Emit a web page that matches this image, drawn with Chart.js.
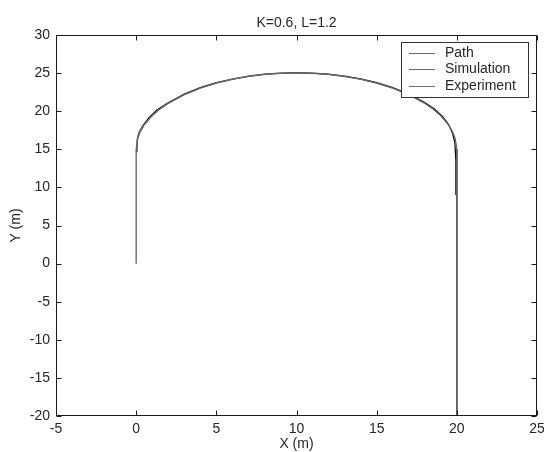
<!DOCTYPE html>
<html>
<head>
<meta charset="utf-8">
<script src="https://cdn.jsdelivr.net/npm/chart.js@4/dist/chart.umd.min.js"></script>
<style>
  html, body { margin: 0; padding: 0; background: #fff; }
</style>
</head>
<body>
<canvas id="chart" width="544" height="452"></canvas>
<script>
const titleText = 'K=0.6, L=1.2';
const xTitle = 'X (m)';
const yTitle = 'Y (m)';
const seriesNames = ['Path', 'Simulation', 'Experiment'];

// planned path: straight up, half circle over, straight down
const pathX = [0, 0, 0.1, 0.25, 0.5, 1, 1.5, 2, 3, 4, 5, 6, 7, 8, 9, 10, 11, 12, 13, 14, 15, 16, 17, 18, 18.5, 19, 19.5, 19.75, 19.9, 20, 20];
const pathY = [0, 15, 16.41, 17.22, 18.12, 19.36, 20.27, 21.0, 22.14, 23.0, 23.66, 24.17, 24.54, 24.8, 24.95, 25.0, 24.95, 24.8, 24.54, 24.17, 23.66, 23.0, 22.14, 21.0, 20.27, 19.36, 18.12, 17.22, 16.41, 15, -20];

const simX = [0, 0, 0.08, 0.22, 0.48, 0.98, 1.5, 2, 3, 4, 5, 6, 7, 8, 9, 10, 11, 12, 13, 14, 15, 16, 17, 18, 18.5, 19, 19.48, 19.74, 19.9, 20, 20];
const simY = [0, 15.1, 16.5, 17.3, 18.2, 19.42, 20.32, 21.05, 22.18, 23.04, 23.7, 24.2, 24.57, 24.83, 24.98, 25.03, 24.98, 24.83, 24.57, 24.2, 23.7, 23.04, 22.18, 21.05, 20.32, 19.42, 18.2, 17.3, 16.45, 15.0, -20];

const expX = [0.04, 0.06, 0.16, 0.4, 0.8, 1.3, 2, 3, 4, 5, 6, 7, 8, 9, 10, 11, 12, 13, 14, 15, 16, 17, 18, 18.6, 19.1, 19.5, 19.74, 19.88, 19.94, 19.94];
const expY = [14.6, 16.1, 17.1, 18.05, 19.15, 20.15, 21.1, 22.25, 23.08, 23.74, 24.22, 24.6, 24.86, 25.0, 25.05, 25.0, 24.87, 24.6, 24.24, 23.76, 23.1, 22.26, 21.15, 20.3, 19.3, 18.2, 17.1, 15.8, 13.5, 9.0];

const xTicks = [-5, 0, 5, 10, 15, 20, 25];
const yTicks = [-20, -15, -10, -5, 0, 5, 10, 15, 20, 25, 30];

const colors = ['#5e5e5e', '#8a8a8a', '#111111'];
const FONT = "'Liberation Sans', Arial, sans-serif";
const textColor = '#262626';

function toPoints(xs, ys) {
  return xs.map((x, i) => ({ x: x, y: ys[i] }));
}

const datasets = [
  toPoints(pathX, pathY),
  toPoints(simX, simY),
  toPoints(expX, expY)
].map((pts, i) => ({
  label: seriesNames[i],
  data: pts,
  showLine: true,
  borderColor: colors[i],
  backgroundColor: colors[i],
  borderWidth: i === 2 ? 1.3 : 1,
  pointRadius: 0,
  tension: 0
}));

// frame, inward ticks on all four sides, and a boxed legend inside the plot
const matlabAxes = {
  id: 'matlabAxes',
  afterDraw(chart) {
    const { ctx, chartArea: a, scales } = chart;
    const L = Math.round(a.left) + 0.5, R = Math.round(a.right) - 0.5;
    const T = Math.round(a.top) + 0.5, B = Math.round(a.bottom) - 0.5;
    const tl = 5;
    ctx.save();
    ctx.strokeStyle = '#1a1a1a';
    ctx.lineWidth = 1;
    ctx.strokeRect(L, T, R - L, B - T);
    ctx.beginPath();
    xTicks.forEach(v => {
      const px = Math.round(scales.x.getPixelForValue(v)) + 0.5;
      ctx.moveTo(px, B); ctx.lineTo(px, B - tl);
      ctx.moveTo(px, T); ctx.lineTo(px, T + tl);
    });
    yTicks.forEach(v => {
      const py = Math.round(scales.y.getPixelForValue(v)) + 0.5;
      ctx.moveTo(L, py); ctx.lineTo(L + tl, py);
      ctx.moveTo(R, py); ctx.lineTo(R - tl, py);
    });
    ctx.stroke();

    // legend box
    const bx = 401.5, by = 42.5, bw = 127, bh = 55;
    ctx.fillStyle = '#fff';
    ctx.fillRect(bx, by, bw, bh);
    ctx.strokeStyle = '#333';
    ctx.strokeRect(bx, by, bw, bh);
    ctx.font = '14px ' + FONT;
    ctx.textBaseline = 'middle';
    ctx.textAlign = 'left';
    chart.data.datasets.forEach((ds, i) => {
      const ry = Math.round(by + 10 + i * 16.8) + 0.5;
      ctx.strokeStyle = '#6e6e6e';
      ctx.beginPath();
      ctx.moveTo(409, ry); ctx.lineTo(435, ry);
      ctx.stroke();
      ctx.fillStyle = textColor;
      ctx.fillText(ds.label, 445, ry);
    });
    ctx.restore();
  }
};

new Chart(document.getElementById('chart'), {
  type: 'scatter',
  data: { datasets: datasets },
  options: {
    responsive: false,
    animation: false,
    devicePixelRatio: 1,
    layout: { padding: { left: 0, right: 0, top: 0, bottom: 0 } },
    plugins: {
      legend: { display: false },
      tooltip: { enabled: false },
      title: {
        display: true,
        text: titleText,
        fullSize: false,
        color: textColor,
        font: { family: FONT, size: 14, weight: 'normal' },
        padding: { top: 15, bottom: 3.2 }
      }
    },
    scales: {
      x: {
        type: 'linear',
        min: -5, max: 25,
        afterFit(s) { s.height = 36; s.paddingRight = 7; s.paddingLeft = 0; },
        afterBuildTicks(s) { s.ticks = xTicks.map(v => ({ value: v })); },
        grid: { display: false, drawTicks: false },
        border: { display: false },
        ticks: { color: textColor, font: { family: FONT, size: 14 }, padding: 5, maxRotation: 0 },
        title: { display: true, text: xTitle, color: textColor, font: { family: FONT, size: 14 }, padding: { top: 0, bottom: -1 } }
      },
      y: {
        type: 'linear',
        min: -20, max: 30,
        afterFit(s) { s.width = 56; },
        afterBuildTicks(s) { s.ticks = yTicks.map(v => ({ value: v })); },
        grid: { display: false, drawTicks: false },
        border: { display: false },
        ticks: { color: textColor, font: { family: FONT, size: 14 }, padding: 6 },
        title: { display: true, text: yTitle, color: textColor, font: { family: FONT, size: 14 }, padding: { top: 8, bottom: 0 } }
      }
    }
  },
  plugins: [matlabAxes]
});
</script>
</body>
</html>
